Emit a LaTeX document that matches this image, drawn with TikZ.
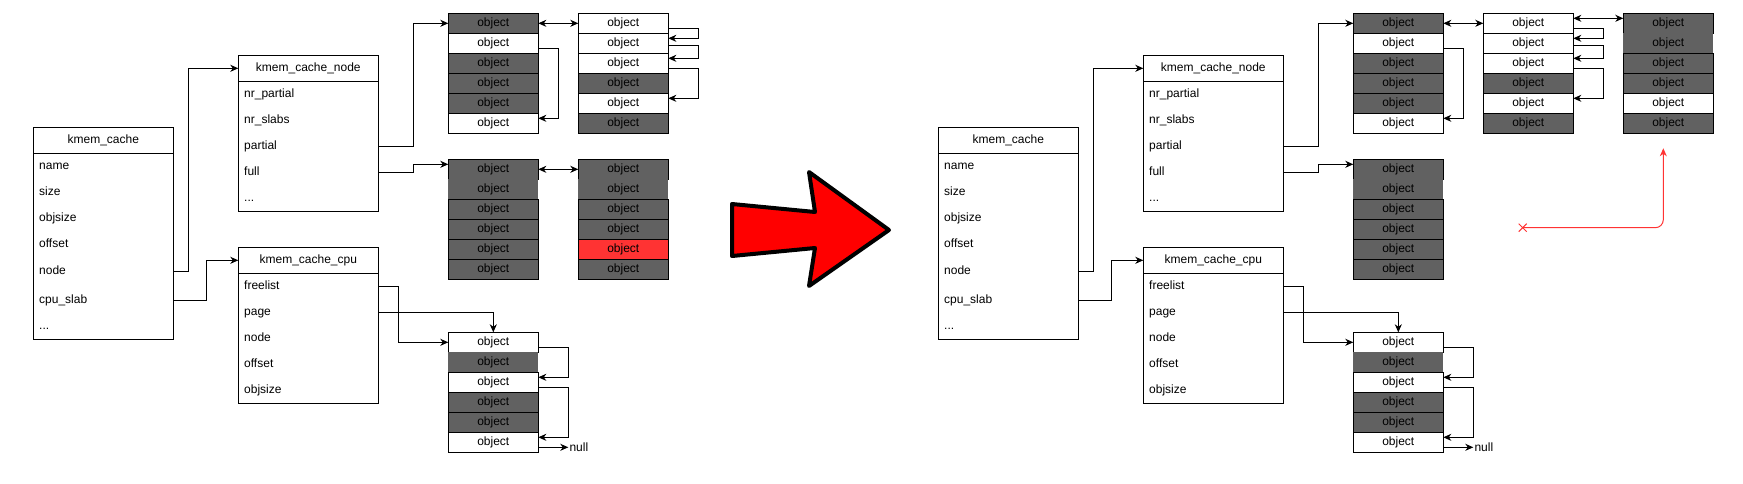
\documentclass[tikz,border=0pt]{standalone}
\usepackage{fontspec}
\setmainfont{Liberation Sans}
\usepackage{tikz}
\usetikzlibrary{
	arrows.meta,
	positioning,
	calc,
	shapes.misc,
	}
\definecolor{slabgray}{HTML}{616161}
\definecolor{slabred}{HTML}{FF3333}
\tikzset{
	>={Stealth[length=8pt,width=7pt,inset=2.5pt]},
	structhead/.style={draw,line width=1pt,outer sep=0pt,inner sep=0pt,minimum width=140pt,minimum height=26pt},
	structbody/.style={draw,line width=1pt,outer sep=0pt,inner sep=0pt,minimum width=140pt},
	field/.style={anchor=west,inner sep=0pt,text height=9pt,text depth=3pt},
	objbase/.style={draw,line width=1pt,outer sep=0pt,inner sep=0pt,minimum width=90pt,minimum height=20pt,text height=9pt,text depth=3pt},
	objw/.style={objbase,fill=white},
	objd/.style={objbase,fill=slabgray},
	objr/.style={objbase,fill=slabred},
	objn/.style={objbase,fill=slabgray,draw=none,minimum height=21pt},
	link/.style={->,line width=1pt},
	dlink/.style={<->,line width=1pt},
	redlink/.style={->,line width=1pt,slabred,rounded corners=8pt},
	bigarrow/.style={fill=red,draw=black,line width=4pt,line join=round},
}

\begin{document}
\begin{tikzpicture}[x=1pt,y=-1pt,font=\fontsize{12}{14}\selectfont]
\useasboundingbox (0,0) rectangle (1743,483);
\foreach \s/\dx in {l/0,r/905} {
\begin{scope}[xshift=\dx pt]
% kmem_cache
\node[structhead,anchor=north west] (\s kc) at (33.3,127.3) {kmem\_cache};
\node[structbody,minimum height=186pt,below=0pt of \s kc] (\s kcb) {};
\node[field] (\s kcname) at (39,166.5) {name};
\node[field] (\s kcsize) at (39,192.5) {size};
\node[field] (\s kcobj) at (39,218.5) {objsize};
\node[field] (\s kcoff) at (39,244.5) {offset};
\node[field] (\s kcnode) at (39,271) {node};
\node[field] (\s kcslab) at (39,300) {cpu\_slab};
\node[field] (\s kcdots) at (39,326.5) {...};
% kmem_cache_node
\node[structhead,anchor=north west] (\s kn) at (238.3,55.3) {kmem\_cache\_node};
\node[structbody,minimum height=130pt,below=0pt of \s kn] (\s knb) {};
\node[field] (\s knnrp) at (244,94.5) {nr\_partial};
\node[field] (\s knnrs) at (244,120.5) {nr\_slabs};
\node[field] (\s knpart) at (244,146.5) {partial};
\node[field] (\s knfull) at (244,172.5) {full};
\node[field] (\s kndots) at (244,198.5) {...};
% kmem_cache_cpu
\node[structhead,anchor=north west] (\s cpu) at (238.3,247.3) {kmem\_cache\_cpu};
\node[structbody,minimum height=130pt,below=0pt of \s cpu] (\s cpub) {};
\node[field] (\s cpufree) at (244,286.5) {freelist};
\node[field] (\s cpupage) at (244,312.5) {page};
\node[field] (\s cpunode) at (244,338.5) {node};
\node[field] (\s cpuoff) at (244,364.5) {offset};
\node[field] (\s cpuobj) at (244,390.5) {objsize};
% slabs
\foreach \c [count=\i from 0] in {objd,objw,objd,objd,objd,objw}
	\node[\c] (\s pa\i) at (493.3,23.3+20*\i) {object};
\foreach \c [count=\i from 0] in {objw,objw,objw,objd,objw,objd}
	\node[\c] (\s pb\i) at (623.3,23.3+20*\i) {object};
\foreach \c [count=\i from 0] in {objd,objn,objd,objd,objd,objd}
	\node[\c] (\s fa\i) at (493.3,169.3+20*\i) {object};
\foreach \c [count=\i from 0] in {objw,objn,objw,objd,objd,objw}
	\node[\c] (\s ea\i) at (493.3,342.3+20*\i) {object};
\node[anchor=west,inner sep=1pt] (\s null) at ($(\s ea5.east)+(30,5)$) {null};
% links
\draw[link] (\s kcnode -| \s kcb.east) -- ++(15,0) |- (\s kn.west);
\draw[link] (\s kcslab -| \s kcb.east) -- ++(33,0) |- (\s cpu.west);
\draw[link] (\s knpart -| \s knb.east) -- ++(35,0) |- (\s pa0.west);
\draw[link] (\s knfull -| \s knb.east) -- ++(35,0) |- ($(\s fa0.west)+(0,-5)$);
\draw[dlink] (\s pa0) -- (\s pb0);
\draw[link] ($(\s pa1.east)+(0,5)$) -- ++(20,0) |- ($(\s pa5.east)+(0,-5)$);
\draw[link] ($(\s pb0.east)+(0,5)$) -- ++(30,0) |- ($(\s pb1.east)+(0,-5)$);
\draw[link] ($(\s pb1.east)+(0,2.5)$) -- ++(30,0) |- ($(\s pb2.east)+(0,-5)$);
\draw[link] ($(\s pb2.east)+(0,5)$) -- ++(30,0) |- ($(\s pb4.east)+(0,-5)$);
\draw[link] (\s cpupage -| \s cpub.east) -| (\s ea0.north);
\draw[link] (\s cpufree -| \s cpub.east) -- ++(20,0) |- (\s ea0.west);
\draw[link] ($(\s ea0.east)+(0,5)$) -- ++(30,0) |- ($(\s ea2.east)+(0,-5)$);
\draw[link] ($(\s ea2.east)+(0,5)$) -- ++(30,0) |- ($(\s ea5.east)+(0,-5)$);
\draw[link] ($(\s ea5.east)+(0,5)$) -- (\s null.west);
\end{scope}
}
% left: full list neighbour
\foreach \c [count=\i from 0] in {objd,objn,objd,objd,objr,objd}
	\node[\c] (lfb\i) at (623.3,169.3+20*\i) {object};
\draw[dlink] (lfa0) -- (lfb0);
% right: new slab
\foreach \c [count=\i from 0] in {objd,objn,objd,objd,objw,objd}
	\node[\c] (rnc\i) at (1668.3,23.3+20*\i) {object};
\draw[dlink] ($(rpb0.east)+(0,-5)$) -- ($(rnc0.west)+(0,-5)$);
\node[cross out,draw=slabred,line width=1pt,minimum size=7pt,inner sep=0pt] (rx) at (1522.7,227.7) {};
\coordinate (rtip) at ($(rnc5.south)+(-5,15)$);
\draw[redlink] (rx.center) -| (rtip);
% big arrow
\draw[bigarrow] (732,204) -- (815,212) -- (809,172) -- (889,230) -- (809,286) -- (815,248) -- (732,256) -- cycle;
\end{tikzpicture}
\end{document}
